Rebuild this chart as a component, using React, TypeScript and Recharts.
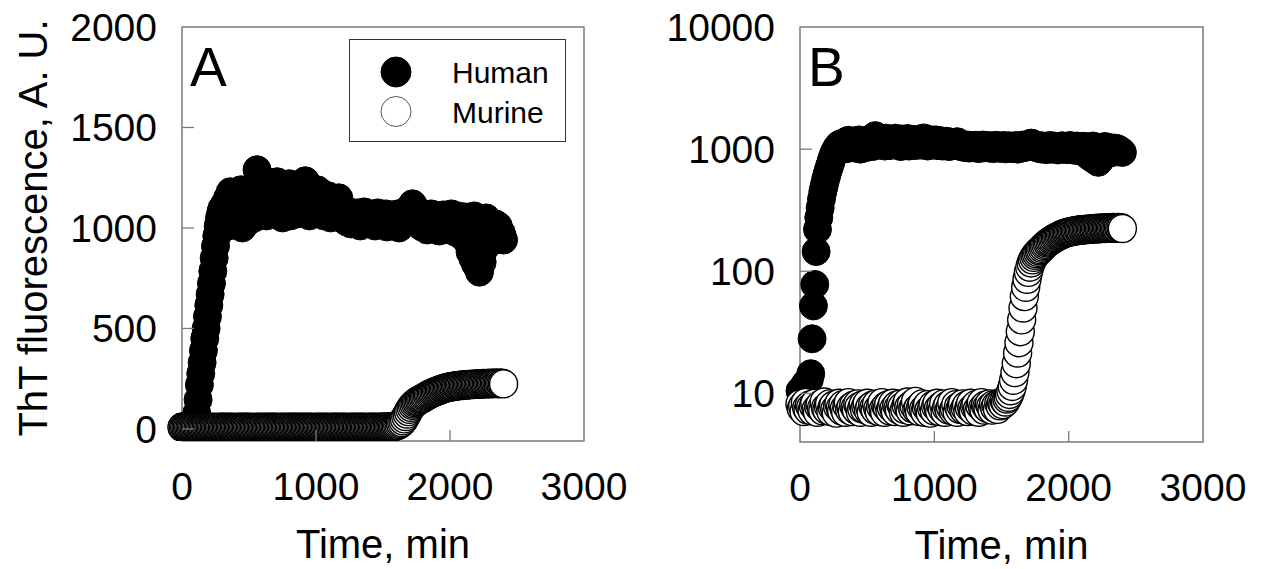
import React from "react"
import { ScatterChart, Scatter, XAxis, YAxis, ReferenceArea, Legend, Label } from "recharts"

// ThT reads every 10 min, 0..2400 min
const STEP = 10

const humanThT = [
  10.5, 10, 11, 11, 12, 12, 12.5, 13, 14.5, 28,
  52, 78, 145, 220, 275, 330, 390, 450, 500, 560,
  615, 670, 725, 785, 850, 910, 960, 1010, 1050, 1080,
  1100, 1040, 1120, 1060, 1150, 1010, 1180, 1090, 1130, 1050,
  1160, 1020, 1110, 1070, 1190, 1000, 1140, 1080, 1120, 1030,
  1170, 1060, 1200, 1100, 1050, 1220, 1290, 1150, 1080, 1180,
  1210, 1090, 1150, 1060, 1230, 1120, 1180, 1070, 1200, 1100,
  1140, 1230, 1080, 1190, 1120, 1050, 1210, 1150, 1090, 1170,
  1220, 1060, 1130, 1180, 1100, 1200, 1070, 1160, 1120, 1190,
  1080, 1140, 1235, 1110, 1170, 1060, 1200, 1130, 1090, 1180,
  1120, 1190, 1070, 1150, 1100, 1170, 1060, 1130, 1090, 1160,
  1110, 1050, 1140, 1080, 1120, 1070, 1100, 1150, 1060, 1090,
  1070, 1040, 1085, 1030, 1060, 1080, 1020, 1070, 1045, 1060,
  1030, 1075, 1050, 1010, 1065, 1040, 1080, 1025, 1055, 1035,
  1070, 1020, 1050, 1060, 1010, 1045, 1075, 1030, 1055, 1015,
  1060, 1035, 1070, 1005, 1050, 1025, 1065, 1040, 1010, 1055,
  1030, 1070, 1000, 1045, 1060, 1020, 1080, 1050, 1035, 1070,
  1060, 1090, 1120, 1110, 1060, 1040, 1075, 1020, 1050, 1005,
  1065, 1030, 1045, 990, 1055, 1020, 1070, 1000, 1040, 1060,
  1015, 1050, 985, 1045, 1025, 1065, 1000, 1035, 1055, 990,
  1040, 1070, 1010, 1050, 980, 1030, 1060, 1000, 1045, 960,
  1020, 1055, 990, 930, 1040, 880, 1000, 850, 1060, 820,
  940, 800, 780, 880, 830, 1010, 900, 1050, 950, 990,
  1030, 960, 1000, 940, 1020, 970, 1010, 950, 980, 960,
  940,
]

const murineThT = [
  8.2, 7.5, 7.9, 7.1, 8.4, 7.6, 7.3, 8.0, 7.7, 7.2,
  7.9, 8.3, 7.4, 7.0, 7.8, 8.1, 7.5, 7.2, 8.5, 7.6,
  7.3, 7.9, 8.2, 7.1, 7.7, 8.0, 7.4, 6.9, 7.8, 8.3,
  7.6, 7.2, 8.1, 7.5, 7.0, 7.9, 8.4, 7.3, 7.7, 7.1,
  8.0, 7.6, 7.3, 8.2, 7.8, 7.0, 7.5, 8.1, 7.4, 7.9,
  8.3, 7.2, 7.7, 7.0, 8.0, 7.6, 7.3, 8.2, 7.5, 7.1,
  7.8, 8.4, 7.4, 7.0, 7.9, 7.6, 8.1, 7.2, 7.7, 8.3,
  7.5, 7.1, 8.0, 7.6, 7.3, 8.2, 7.8, 7.0, 7.4, 8.0,
  8.5, 7.7, 7.2, 8.1, 7.5, 7.9, 8.6, 7.3, 7.6, 7.1,
  7.8, 8.2, 7.4, 7.0, 7.7, 8.1, 7.3, 6.9, 7.6, 8.0,
  7.2, 7.8, 8.3, 7.5, 7.1, 7.9, 7.4, 8.2, 7.0, 7.6,
  8.0, 7.3, 7.7, 8.4, 7.2, 7.5, 8.1, 7.0, 7.8, 7.4,
  7.9, 8.2, 7.3, 7.6, 8.0, 7.1, 7.7, 8.3, 7.5, 7.2,
  7.8, 8.1, 7.4, 7.0, 7.9, 8.4, 7.6, 7.3, 8.0, 7.7,
  7.5, 8.2, 7.8, 7.3, 8.1, 7.6, 8.0, 7.4, 8.3, 7.9,
  8.4, 8.1, 8.7, 8.5, 9.0, 9.3, 9.8, 10.5, 11.4, 12.8,
  14.8, 17.5, 21.4, 26, 32, 40, 50, 62, 74, 86,
  98, 108, 117, 124, 130, 135, 139, 143, 147, 150,
  154, 158, 162, 166, 170, 173, 176, 179, 182, 185,
  188, 190, 193, 195, 198, 200, 202, 204, 206, 207,
  209, 210, 212, 211, 214, 215, 214, 217, 218, 216,
  219, 218, 220, 219, 221, 220, 222, 221, 223, 222,
  224, 222, 225, 223, 224, 226, 225, 224, 226, 225,
  227, 225, 226, 228, 226, 227, 225, 228, 226, 227,
  224,
]

const timeTicks = [0, 1000, 2000, 3000]
const linTicks = [0, 500, 1000, 1500, 2000]
const logTicks = [10, 100, 1000, 10000]

const toPoints = (vals: number[]) => vals.map((v, i) => ({ t: i * STEP, v }))
const human = toPoints(humanThT)
const murine = toPoints(murineThT)

const FONT = "'Liberation Sans', Arial, Helvetica, sans-serif"
const FRAME = "#7a7a7a"
const R = 14

const filledDot = (p: any) => (
  <circle cx={p.cx} cy={p.cy} r={R} fill="#000" stroke="#000" strokeWidth={1} />
)
const openDot = (p: any) => (
  <circle cx={p.cx} cy={p.cy} r={R} fill="#fff" stroke="#000" strokeWidth={1.4} />
)

// ticks point inward, labels sit outside the frame
const yTick = (top: number) => (p: any) => {
  const left = p.x + 25
  const v = p.payload.value
  return (
    <g>
      {v !== top && <line x1={left} x2={left + 12} y1={p.y} y2={p.y} stroke={FRAME} strokeWidth={1.3} />}
      <text x={p.x} y={p.y} dy="0.355em" textAnchor="end" fontSize={39} fill="#000">{v}</text>
    </g>
  )
}

const xTick = (p: any) => {
  const bottom = p.y - 31
  const v = p.payload.value
  return (
    <g>
      {v > 0 && v < 3000 && <line x1={p.x} x2={p.x} y1={bottom} y2={bottom - 11} stroke={FRAME} strokeWidth={1.3} />}
      <text x={p.x} y={p.y} dy="0.71em" textAnchor="middle" fontSize={39} fill="#000">{v}</text>
    </g>
  )
}

const xTitle = (p: any) => (
  <text x={p.viewBox.x + p.viewBox.width / 2} y={p.viewBox.y + 117} textAnchor="middle" fontSize={40} fill="#000">
    Time, min
  </text>
)

const yTitle = (p: any) => {
  const cx = p.viewBox.x - 49
  const cy = p.viewBox.y + p.viewBox.height / 2 - 6
  return (
    <text x={cx} y={cy} dy="0.355em" transform={`rotate(-90 ${cx} ${cy})`} textAnchor="middle" fontSize={40} fill="#000">
      ThT fluorescence, A. U.
    </text>
  )
}

const panelLetter = (letter: string) => (p: any) => (
  <text x={p.viewBox.x + 8} y={p.viewBox.y + 59} fontSize={55} fill="#000">{letter}</text>
)

const legendBox = (props: any) => {
  const items = props.payload || []
  return (
    <svg width={217} height={103} style={{ display: "block", fontFamily: FONT }}>
      <rect x={0.5} y={0.5} width={216} height={102} fill="#fff" stroke="#333" />
      {items.map((it: any, i: number) => (
        <g key={it.value}>
          <circle cx={47} cy={33 + i * 39.5} r={15} fill={i === 0 ? "#000" : "#fff"} stroke={i === 0 ? "#000" : "#555"} />
          <text x={103} y={44 + i * 39.5} fontSize={30} fill="#000">{it.value}</text>
        </g>
      ))}
    </svg>
  )
}

export default function App() {
  return (
    <div style={{ position: "absolute", left: 0, top: 0, width: 1261, height: 569, background: "#fff", fontFamily: FONT }}>
      <div style={{ position: "absolute", left: 0, top: 0 }}>
        <ScatterChart width={640} height={569} margin={{ top: 27, right: 56, bottom: 68, left: 82 }} style={{ fontFamily: FONT }}>
          <XAxis type="number" dataKey="t" domain={[0, 3000]} ticks={timeTicks} interval={0}
            axisLine={false} tickLine={false} tickSize={0} tickMargin={31} height={60} tick={xTick}>
            <Label content={xTitle} />
          </XAxis>
          <YAxis type="number" dataKey="v" domain={[-60, 2000]} ticks={linTicks} interval={0} allowDataOverflow
            axisLine={false} tickLine={false} tickSize={0} tickMargin={25} width={100} tick={yTick(2000)}>
            <Label content={yTitle} />
          </YAxis>
          <ReferenceArea x1={0} x2={3000} y1={-60} y2={2000} fill="none" stroke={FRAME} strokeWidth={1.5}
            label={{ content: panelLetter("A") }} />
          <Scatter name="Human" data={human} shape={filledDot} fill="#000" isAnimationActive={false} />
          <Scatter name="Murine" data={murine} shape={openDot} fill="#fff" isAnimationActive={false} />
          <Legend layout="horizontal" verticalAlign="middle" align="center" content={legendBox}
            wrapperStyle={{ left: 349, top: 39, width: 217, height: 103 }} />
        </ScatterChart>
      </div>
      <div style={{ position: "absolute", left: 640, top: 0 }}>
        <ScatterChart width={621} height={569} margin={{ top: 27, right: 58, bottom: 67, left: 60 }} style={{ fontFamily: FONT }}>
          <XAxis type="number" dataKey="t" domain={[0, 3000]} ticks={timeTicks} interval={0}
            axisLine={false} tickLine={false} tickSize={0} tickMargin={31} height={60} tick={xTick}>
            <Label content={xTitle} />
          </XAxis>
          <YAxis type="number" dataKey="v" scale="log" domain={[4, 10000]} ticks={logTicks} interval={0} allowDataOverflow
            axisLine={false} tickLine={false} tickSize={0} tickMargin={25} width={100} tick={yTick(10000)} />
          <ReferenceArea x1={0} x2={3000} y1={4} y2={10000} fill="none" stroke={FRAME} strokeWidth={1.5}
            label={{ content: panelLetter("B") }} />
          <Scatter name="Human" data={human} shape={filledDot} fill="#000" isAnimationActive={false} />
          <Scatter name="Murine" data={murine} shape={openDot} fill="#fff" isAnimationActive={false} />
        </ScatterChart>
      </div>
    </div>
  )
}
